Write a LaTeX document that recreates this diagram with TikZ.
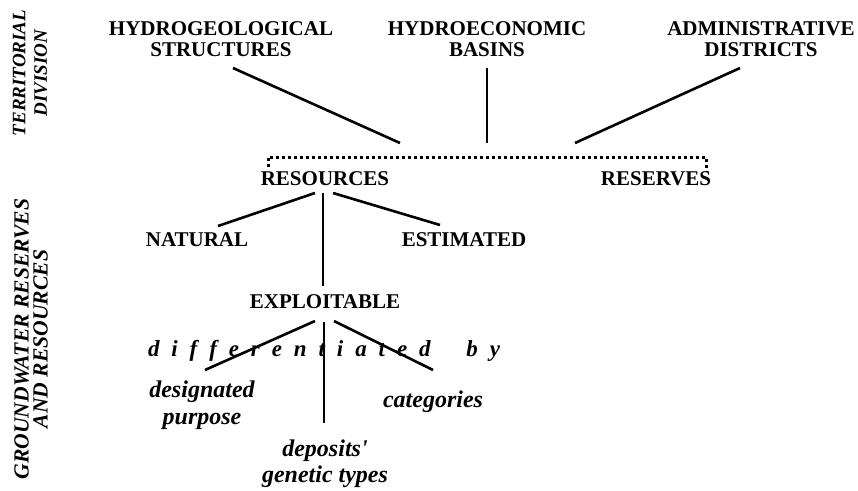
\documentclass[tikz,border=0pt]{standalone}
\usepackage{fontspec}
\setmainfont{Liberation Serif}
\begin{document}
\begin{tikzpicture}[x=1pt,y=-1pt,
  lbl/.style={font=\fontsize{21}{20.5}\selectfont\bfseries, align=center, inner sep=0pt},
  ilbl/.style={font=\fontsize{24}{27.5}\selectfont\bfseries\itshape, align=center, inner sep=0pt},
  side/.style={font=\fontsize{19}{21.5}\selectfont\bfseries\itshape, align=center, inner sep=0pt, rotate=90},
  conn/.style={line width=2.6pt},
  dotl/.style={line width=3pt, dash pattern=on 3pt off 3pt}]
\useasboundingbox (0,0) rectangle (858,490);
\fill[white] (0,0) rectangle (858,490);
% side labels
\node[side] (terr) at (30,73) {TERRITORIAL\\DIVISION};
\node[side, font=\fontsize{21.6}{19}\selectfont\bfseries\itshape] (grw) at (31,339) {GROUNDWATER RESERVES\\AND RESOURCES};
% top
\node[lbl] (hs) at (221,39) {HYDROGEOLOGICAL\\STRUCTURES};
\node[lbl] (hb) at (487,39) {HYDROECONOMIC\\BASINS};
\node[lbl] (ad) at (761,39) {ADMINISTRATIVE\\DISTRICTS};
\coordinate (hsE) at (233,68);
\coordinate (hbE) at (487,68);
\coordinate (adE) at (740,68);
\coordinate (m1) at (400,143);
\coordinate (m2) at (487,143);
\coordinate (m3) at (575,143);
\draw[conn] (hsE) -- (m1);
\draw[conn] (hbE) -- (m2);
\draw[conn] (adE) -- (m3);
% dotted bracket
\coordinate (dl) at (268,167);
\coordinate (dlt) at (268,157);
\coordinate (drt) at (706,157);
\coordinate (dr) at (706,172);
\draw[dotl] (dl) -- (dlt) -- (drt) -- (dr);
% second level
\node[lbl] (res) at (325,179) {RESOURCES};
\node[lbl] (rsv) at (656,179) {RESERVES};
\node[lbl] (nat) at (197,240) {NATURAL};
\node[lbl] (est) at (464,240) {ESTIMATED};
\node[lbl] (exp) at (325,302) {EXPLOITABLE};
\coordinate (r1) at (315,193);
\coordinate (r2) at (323,193);
\coordinate (r3) at (333,193);
\coordinate (n1) at (218,226);
\coordinate (e1) at (440,225);
\coordinate (x1) at (323,286);
\draw[conn] (r1) -- (n1);
\draw[conn] (r2) -- (x1);
\draw[conn] (r3) -- (e1);
% differentiated by
\node[font=\fontsize{23}{25}\selectfont\bfseries\itshape, inner sep=0pt] (diff) at (324,351)
  {\makebox[352pt][s]{d\hfill i\hfill f\hfill f\hfill e\hfill r\hfill e\hfill n\hfill t\hfill i\hfill a\hfill t\hfill e\hfill d\hfill\hfill\hfill b\hfill y}};
\node[ilbl] (dp) at (202,405) {designated\\purpose};
\node[ilbl] (cat) at (433,402) {categories};
\node[ilbl, font=\fontsize{24}{26.5}\selectfont\bfseries\itshape] (dgt) at (325,464) {deposits\textquotesingle\\genetic types};
\coordinate (p1) at (315,321);
\coordinate (p2) at (324,322);
\coordinate (p3) at (334,321);
\coordinate (q1) at (205,370);
\coordinate (q2) at (324,423);
\coordinate (q3) at (433,370);
\draw[conn] (p1) -- (q1);
\draw[conn] (p2) -- (q2);
\draw[conn] (p3) -- (q3);
\end{tikzpicture}
\end{document}
